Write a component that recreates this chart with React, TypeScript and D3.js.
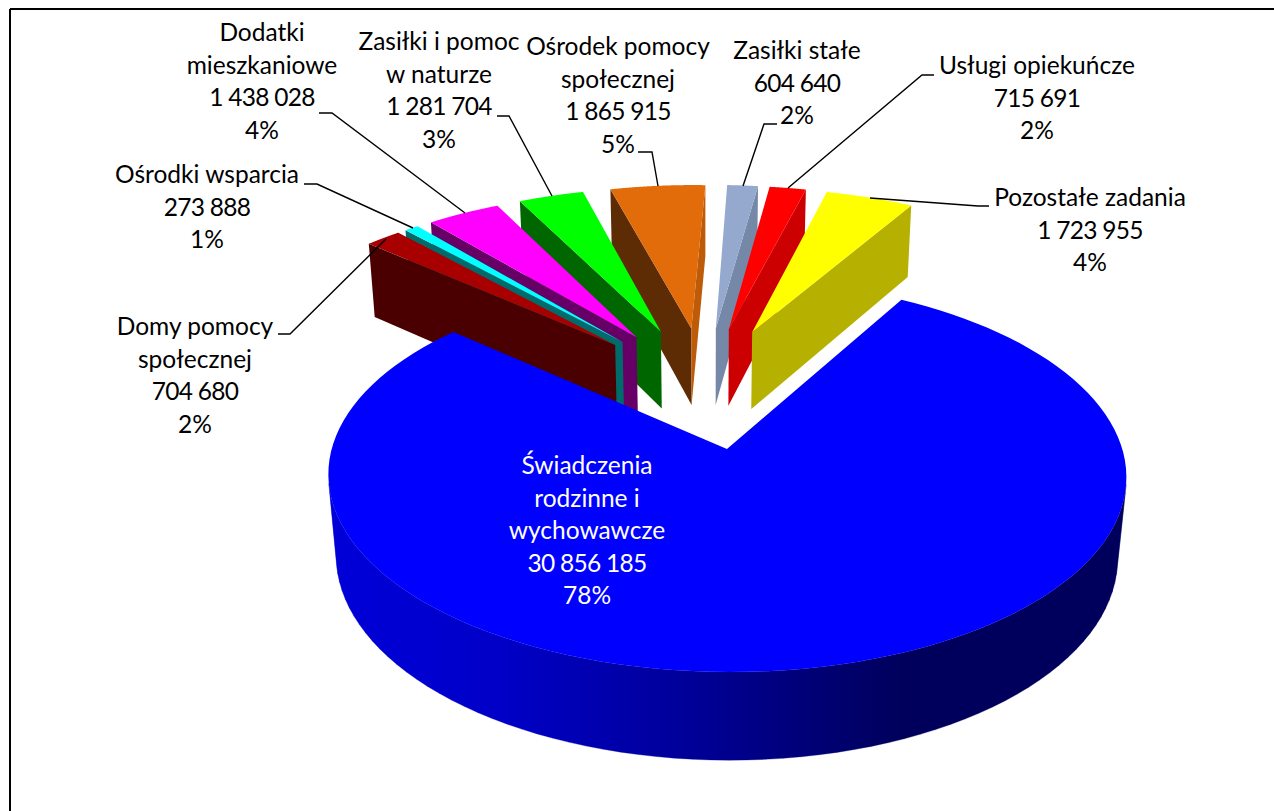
import React from 'react'
import * as d3 from 'd3'

// values in PLN, blue slice first, then clockwise
const categories = [
  'Świadczenia rodzinne i wychowawcze',
  'Domy pomocy społecznej',
  'Ośrodki wsparcia',
  'Dodatki mieszkaniowe',
  'Zasiłki i pomoc w naturze',
  'Ośrodek pomocy społecznej',
  'Zasiłki stałe',
  'Usługi opiekuńcze',
  'Pozostałe zadania',
]
const values = [30856185, 704680, 273888, 1438028, 1281704, 1865915, 604640, 715691, 1723955]
const valueLabels = ['30 856 185', '704 680', '273 888', '1 438 028', '1 281 704', '1 865 915', '604 640', '715 691', '1 723 955']
const percentLabels = ['78%', '2%', '1%', '4%', '3%', '5%', '2%', '2%', '4%']
const nameLines = [
  ['Świadczenia', 'rodzinne i', 'wychowawcze'],
  ['Domy pomocy', 'społecznej'],
  ['Ośrodki wsparcia'],
  ['Dodatki', 'mieszkaniowe'],
  ['Zasiłki i pomoc', 'w naturze'],
  ['Ośrodek pomocy', 'społecznej'],
  ['Zasiłki stałe'],
  ['Usługi opiekuńcze'],
  ['Pozostałe zadania'],
]

const topColors = ['#0000ff', '#a80000', '#00ffff', '#ff00ff', '#00ff00', '#e26b0a', '#95a9cf', '#ff0000', '#ffff00']
const startColors = ['#000080', '#4a0000', '#006b6b', '#660066', '#006600', '#5d2c05', '#7688a8', '#cc0000', '#b6b000']
const endColors = ['#000080', '#4a0000', '#006b6b', '#660066', '#006600', '#bd5b08', '#7688a8', '#cc0000', '#b6b000']

// label placement: centre x, first baseline, then the leader line points
const labelX = [587, 195, 207, 262, 439, 618, 797, 1037, 1090]
const labelY = [474, 335, 183, 41, 50, 55, 59, 74, 206]
const leaders: number[][][] = [
  [],
  [[278, 334], [290, 334], [386, 239]],
  [[304, 184], [317, 184], [413, 228]],
  [[319, 113], [332, 113], [465, 213]],
  [[497, 116], [509, 116], [552, 196]],
  [[638, 152], [652, 152], [658, 186]],
  [[777, 124], [764, 124], [743, 186]],
  [[934, 75], [922, 75], [788, 188]],
  [[989, 206], [978, 206], [870, 198]],
]

const width = 1274
const height = 811
const lineGap = 32.6

// camera fitted to the picture
const cx = 705
const cy = 386.3
const R = 377.8
const A = 176
const H = 80.3
const K = 0.13
const M = 0.02
const explode = 0.345

const project = (u: number, v: number, h: number): [number, number] => {
  const w = 1 - K * v + M * h
  return [cx + (R * u) / w, cy + (A * v + H * h) / w]
}

const line = d3.line()

const area = (pts: [number, number][]) => d3.polygonArea(pts)

const App = () => {
  const arcs = d3.pie<number>().sort(null)
    .startAngle(Math.PI / 6)
    .endAngle(Math.PI / 6 + Math.PI * 2)(values)

  const slices = arcs.map((a, i) => {
    const mid = (a.startAngle + a.endAngle) / 2
    const u0 = explode * Math.sin(mid)
    const v0 = -explode * Math.cos(mid)
    const steps = 120
    const angles = d3.range(0, steps + 1).map(k => a.startAngle + ((a.endAngle - a.startAngle) * k) / steps)
    const rim = (h: number) => angles.map(t => project(u0 + Math.sin(t), v0 - Math.cos(t), h))
    const apex = (h: number) => project(u0, v0, h)
    const topRim = rim(0)
    const lowRim = rim(1)
    const startFace = [apex(0), topRim[0], lowRim[0], apex(1)] as [number, number][]
    const endFace = [apex(0), topRim[steps], lowRim[steps], apex(1)] as [number, number][]
    // only the quads of the rim that face the viewer, so the union has no folds
    const band = d3.range(steps)
      .map(k => [topRim[k], topRim[k + 1], lowRim[k + 1], lowRim[k]] as [number, number][])
      .filter(q => area(q) > 0)
      .map(q => line(q) + 'Z')
      .join('')
    // distance from 12 o'clock sets the paint order, blue ends up last
    let off = mid % (Math.PI * 2)
    if (off > Math.PI) off = Math.PI * 2 - off
    return {
      i, off, band,
      top: [apex(0), ...topRim],
      startFace: area(startFace) < 0 ? null : startFace,
      endFace: area(endFace) > 0 ? null : endFace,
    }
  })
  const order = slices.slice().sort((a, b) => d3.ascending(a.off, b.off))

  return (
    <svg width={width} height={height} style={{ position: 'absolute', left: 0, top: 0, background: '#fff' }}
      fontFamily="Lato, sans-serif" fontSize={24.5}>
      <defs>
        <linearGradient id="blueSide" gradientUnits="userSpaceOnUse" x1={330} x2={1126} y1={0} y2={0}>
          <stop offset="0" stopColor="#0000d8" />
          <stop offset="0.21" stopColor="#0000c8" />
          <stop offset="0.49" stopColor="#000090" />
          <stop offset="0.72" stopColor="#00005c" />
          <stop offset="1" stopColor="#00005c" />
        </linearGradient>
      </defs>
      <path d="M10,9H1274M10,9V811" fill="none" stroke="#000" strokeWidth={2} />
      {order.map(s => (
        <g key={categories[s.i]}>
          {s.i === 0 && <path d={s.band} fill="url(#blueSide)" stroke="url(#blueSide)" strokeWidth={0.3} />}
          {s.startFace && <path d={line(s.startFace) + 'Z'} fill={startColors[s.i]} />}
          {s.endFace && <path d={line(s.endFace) + 'Z'} fill={endColors[s.i]} />}
          <path d={line(s.top) + 'Z'} fill={topColors[s.i]} />
        </g>
      ))}
      {leaders.map((l, i) => l.length > 0 && (
        <path key={i} d={line(l as [number, number][]) as string} fill="none" stroke="#000" strokeWidth={1.4} />
      ))}
      {categories.map((c, i) => {
        const names = nameLines[i]
        const rows = [...names, valueLabels[i], percentLabels[i]]
        return (
          <text key={c} textAnchor="middle" fill={i === 0 ? '#fff' : '#000'}>
            {rows.map((r, j) => (
              <tspan key={j} x={labelX[i]} y={labelY[i] + j * lineGap}
                letterSpacing={j === names.length ? -0.7 : 0}>{r}</tspan>
            ))}
          </text>
        )
      })}
    </svg>
  )
}

export default App
